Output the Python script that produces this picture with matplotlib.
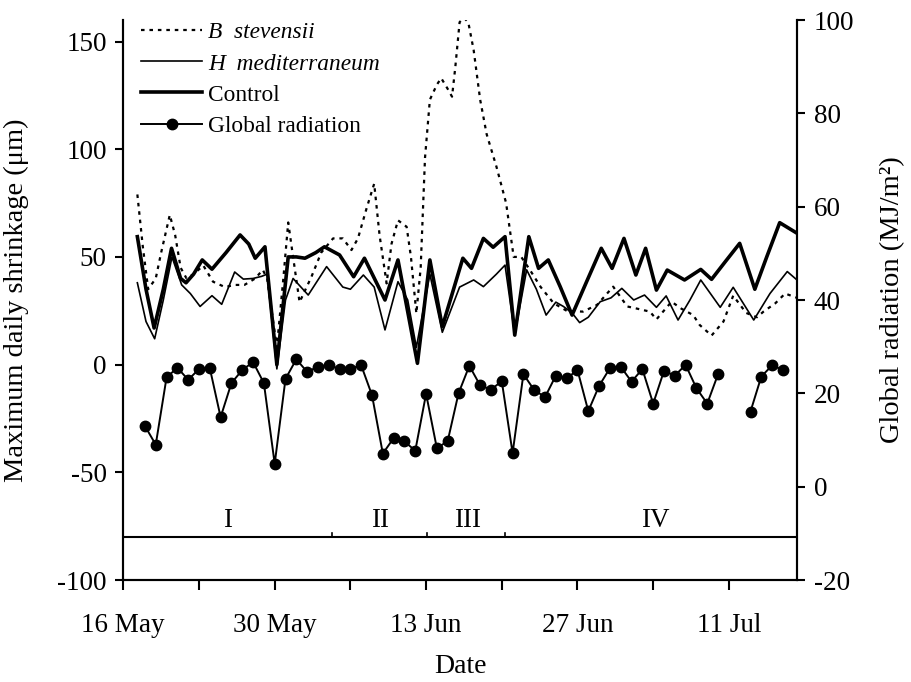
import numpy as np
import matplotlib
matplotlib.use("Agg")
import matplotlib.pyplot as plt
from matplotlib.lines import Line2D

plt.rcParams['font.family'] = ['Liberation Serif', 'DejaVu Serif']
plt.rcParams['font.size'] = 19.5
plt.rcParams['axes.unicode_minus'] = False

# x = days after 16 May
date_ticks = [0, 14, 28, 42, 56]
date_labels = ["16 May", "30 May", "13 Jun", "27 Jun", "11 Jul"]
minor_ticks = [7, 21, 35, 49]

# B. stevensii (dotted)
bs_day = [1.3, 1.8, 2.3, 3.0, 3.5, 4.3, 4.8, 5.3, 5.85, 6.5, 7.4, 8.3, 9.4, 10.3, 11.2, 12.2,
          12.9, 13.3, 14.2, 14.8, 15.25, 15.7, 16.3, 17.4, 18.3, 19.4, 20.3, 21.1, 21.7, 22.5,
          23.2, 23.7, 24.35, 24.8, 25.4, 26.2, 26.6, 27.1, 27.5, 27.9, 28.35, 29.0, 29.4, 30.0,
          30.4, 30.7, 31.1, 31.5, 31.9, 32.4, 33.0, 33.6, 34.5, 35.4, 35.75, 36.1, 36.8, 37.6,
          38.6, 39.8, 41.0, 42.5, 43.8, 45.3, 46.6, 47.5, 48.7, 49.3, 50.7, 51.6, 52.7, 53.3,
          54.4, 55.5, 56.4, 57.6, 58.6, 59.2, 60.3, 61.2, 62.3]
bs_val = [79, 55, 35, 40, 52, 69.5, 60, 45, 40, 42, 46, 38.5, 36, 37, 37, 40,
          44, 40, 8, 40, 66, 50, 29, 40.8, 52, 58.6, 58.6, 53.2, 58.6, 72.6,
          84, 60, 37.7, 56, 67, 64, 50, 23.8, 45, 96, 123, 130, 133, 128,
          124.4, 138, 159, 161, 159, 146, 123, 107, 92, 75, 62.5, 50, 50, 44,
          36, 28.5, 25, 24.6, 27.7, 36.2, 27, 26, 24.6, 21, 29.2, 26, 23, 18.4,
          13.5, 20, 32, 24, 22, 24.6, 28.5, 33, 31]

# H. mediterraneum (thin solid)
hm_day = [1.3, 2.1, 2.9, 3.7, 4.5, 5.4, 6.2, 7.1, 8.2, 9.1, 10.3, 11.1, 12.0, 12.8, 13.3,
          14.2, 15.0, 15.7, 17.1, 18.8, 20.3, 21.0, 22.2, 23.2, 24.2, 25.4, 26.3, 27.1, 28.35,
          29.5, 31.1, 32.4, 33.3, 34.5, 35.3, 36.2, 37.3, 38.2, 39.1, 40.0, 40.7, 41.5, 42.2,
          43.0, 44.1, 45.1, 46.1, 47.2, 48.2, 49.3, 50.2, 51.3, 52.4, 53.4, 55.2, 56.4, 58.3,
          59.8, 61.4, 62.3]
hm_val = [38, 20, 12, 30, 50, 37, 33, 27, 32, 28, 43, 39.7, 40, 41, 42,
          -2, 30, 40, 32.3, 45.5, 36, 35, 41.6, 36, 16.1, 38.5, 30, 8, 42,
          15, 36, 39.3, 36.2, 42, 46.2, 14, 44, 35, 23, 29, 27, 24, 19.5,
          22, 29.2, 31, 35.4, 30, 32.3, 26.6, 31.9, 20.7, 30, 39.3, 26.6, 35.9, 20.7,
          33, 43.2, 39.3]

# Control (thick)
ct_day = [1.3, 2.1, 2.85, 3.7, 4.46, 5.3, 5.8, 6.5, 7.3, 8.2, 9.5, 10.8, 11.6, 12.2, 13.1,
          14.2, 15.25, 16.0, 16.8, 17.8, 18.6, 20.0, 21.3, 22.3, 24.2, 25.4, 27.2, 28.35,
          29.5, 31.4, 32.2, 33.3, 34.2, 35.3, 36.2, 37.5, 38.4, 39.3, 40.4, 41.5, 42.8, 44.2,
          45.2, 46.3, 47.4, 48.3, 49.3, 50.3, 51.9, 53.4, 54.4, 55.7, 57.0, 58.4, 59.5, 60.7,
          62.3]
ct_val = [59.4, 35, 17, 35, 54, 40, 38, 42, 48.6, 44.3, 52, 60.2, 56, 49.4, 54.7,
          0, 50, 50, 49.4, 52, 54.7, 50.9, 40.8, 49.4, 30, 48.6, 0.6, 48.6,
          17.6, 49.4, 44.7, 58.6, 54.5, 59.4, 13.7, 59.4, 44.7, 48.6, 36.2, 23, 38, 54,
          44.7, 58.6, 41.6, 54, 34.6, 43.9, 39.3, 44.2, 39.6, 48, 56.3, 35, 50, 65.9,
          61]

# Global radiation (MJ/m2), daily
rad_day = list(range(2, 62))
rad_val = [13.0, 9.0, 23.4, 25.5, 22.9, 25.2, 25.4, 14.9, 22.2, 25.0, 26.7, 22.2, 4.9, 23.1,
           27.3, 24.6, 25.7, 26.1, 25.2, 25.3, 26.0, 19.6, 7.1, 10.4, 9.7, 7.7, 19.9, 8.2,
           9.8, 20.0, 25.9, 21.7, 20.8, 22.6, 7.2, 24.1, 20.7, 19.2, 23.8, 23.2, 25.0, 16.2,
           21.6, 25.4, 25.7, 22.5, 25.2, 17.8, 24.8, 23.8, 26.1, 21.1, 17.8, 24.1, np.nan,
           np.nan, 16.1, 23.6, 26.0, 25.0]

period_bounds = [19.3, 28.1, 35.3]
period_labels = ["I", "II", "III", "IV"]
period_label_x = [9.6, 23.7, 31.8, 49.2]

fig = plt.figure(figsize=(9.11, 6.82), dpi=100)
ax = fig.add_axes([123.3 / 911, 1 - 580 / 682, (797 - 123.3) / 911, 560 / 682])
ax2 = ax.twinx()

ax.plot(bs_day, bs_val, color='black', lw=1.6, linestyle=(0, (1.6, 2.2)))
ax.plot(hm_day, hm_val, color='black', lw=1.2)
ax.plot(ct_day, ct_val, color='black', lw=2.6)
ax2.plot(rad_day, rad_val, color='black', lw=1.4, marker='o', markersize=7.5)

ax.set_xlim(0, 62.3)
ax.set_ylim(-100, 160)
ax2.set_ylim(-20, 100)

ax.set_xticks(date_ticks)
ax.set_xticklabels(date_labels)
ax.set_xticks(minor_ticks, minor=True)
ax.set_yticks([-100, -50, 0, 50, 100, 150])
ax2.set_yticks([-20, 0, 20, 40, 60, 80, 100])

for a in (ax, ax2):
    a.spines['top'].set_visible(False)
    for s in a.spines.values():
        s.set_linewidth(1.5)
    a.tick_params(which='both', direction='out', length=6, width=1.5, labelsize=19.5)
ax.tick_params(axis='x', which='both', length=7, pad=17)
ax.tick_params(axis='y', pad=6)
ax2.tick_params(axis='y', pad=6)

ax.set_xlabel("Date", fontsize=20, labelpad=11)
ax.set_ylabel("Maximum daily shrinkage (μm)", fontsize=20.5, labelpad=20)
ax2.set_ylabel("Global radiation (MJ/m²)", fontsize=20.5, labelpad=19)

# periods
ax.axhline(-80, color='black', lw=1.5)
for b in period_bounds:
    ax.plot([b, b], [-80, -78], color='black', lw=1.2)
for lx, lab in zip(period_label_x, period_labels):
    ax.text(lx, -72.5, lab, ha='center', va='center', fontsize=19.5)

handles = [
    Line2D([], [], color='black', lw=1.6, linestyle=(0, (1.6, 2.2))),
    Line2D([], [], color='black', lw=1.2),
    Line2D([], [], color='black', lw=2.6),
    Line2D([], [], color='black', lw=1.4, marker='o', markersize=7.5),
]
labels = ["B  stevensii", "H  mediterraneum", "Control", "Global radiation"]
leg = ax2.legend(handles, labels, loc='upper left', bbox_to_anchor=(0.013, 1.013),
                 frameon=False, handlelength=2.6, handletextpad=0.25, labelspacing=0.42,
                 borderaxespad=0, fontsize=16.8)
leg.get_texts()[0].set_style('italic')
leg.get_texts()[1].set_style('italic')

fig.savefig("out.png", dpi=100)
